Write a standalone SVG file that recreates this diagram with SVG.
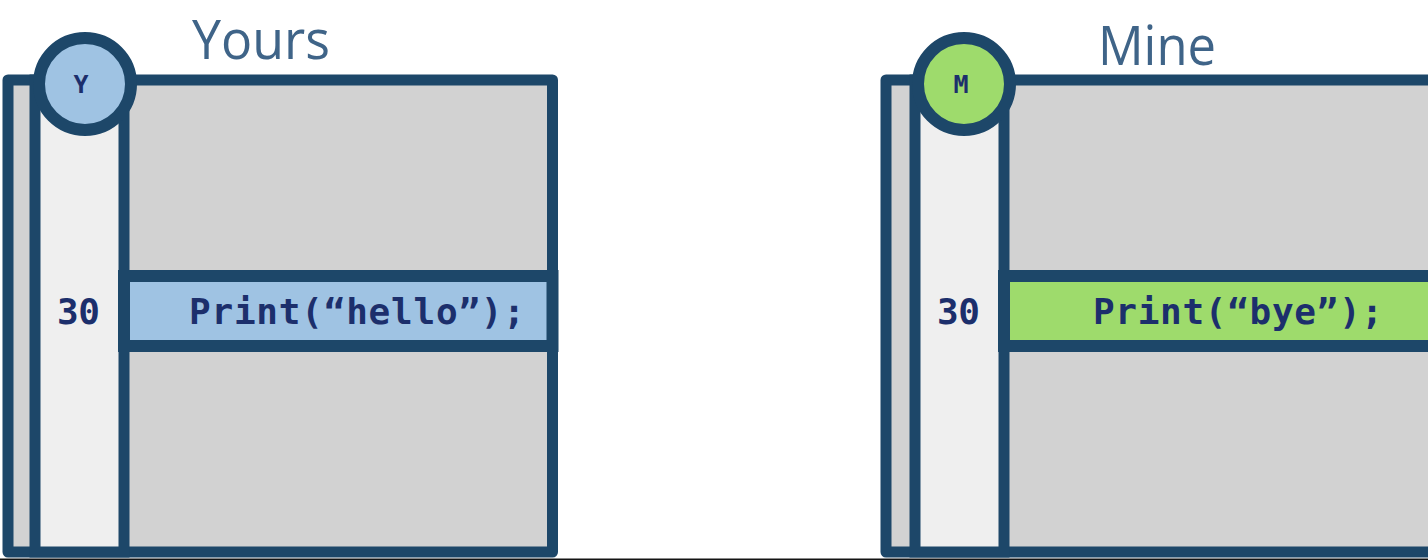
<svg xmlns="http://www.w3.org/2000/svg" width="1428" height="560" viewBox="0 0 1428 560">
  <style>
    .frame { fill:#d2d2d2; stroke:#1d4769; stroke-width:11; stroke-linejoin:round; }
    .col { fill:#efefef; stroke:#1d4769; stroke-width:11; }
    .band { stroke:#1d4769; stroke-width:12; }
    .blue { fill:#9fc3e3; }
    .green { fill:#9edb6c; }
    .circ { stroke:#1d4769; stroke-width:12; }
    .title { font-family:"Open Sans","Noto Sans",sans-serif; font-size:54px; fill:#3f6488; }
    .code { font-family:"DejaVu Sans Mono","Liberation Mono",monospace; font-weight:bold; font-size:36px; fill:#1c2f6c; }
    .letter { font-family:"DejaVu Sans Mono","Liberation Mono",monospace; font-weight:bold; font-size:25px; fill:#1c2f6c; text-anchor:middle; }
  </style>
  <rect x="0" y="0" width="1428" height="560" fill="#ffffff"/>

  <g id="yours">
    <rect class="frame" x="8" y="80" width="544.5" height="472"/>
    <rect class="col" x="35" y="80" width="89" height="472"/>
    <rect class="band blue" x="124" y="276" width="428.5" height="70"/>
    <circle class="circ blue" cx="85" cy="84" r="46"/>
    <text class="letter" x="81" y="93">Y</text>
    <text class="code" x="57" y="324" textLength="43" lengthAdjust="spacing">30</text>
    <text class="code" x="189" y="324" textLength="336" lengthAdjust="spacing">Print(“hello”);</text>
    <text class="title" x="192" y="59" textLength="138" lengthAdjust="spacingAndGlyphs">Yours</text>
  </g>

  <g id="mine" transform="translate(879,0)">
    <rect class="frame" x="7" y="80" width="580" height="472"/>
    <rect class="col" x="36" y="80" width="89" height="472"/>
    <rect class="band green" x="125" y="276" width="470" height="70"/>
    <circle class="circ green" cx="85" cy="84" r="46"/>
    <text class="letter" x="82" y="93">M</text>
    <text class="code" x="58" y="324" textLength="43" lengthAdjust="spacing">30</text>
    <text class="code" x="214" y="324" textLength="290" lengthAdjust="spacing">Print(“bye”);</text>
    <text class="title" x="219" y="65" textLength="118" lengthAdjust="spacingAndGlyphs">Mine</text>
  </g>

  <rect x="0" y="558.5" width="1428" height="1.5" fill="#141414"/>
</svg>
